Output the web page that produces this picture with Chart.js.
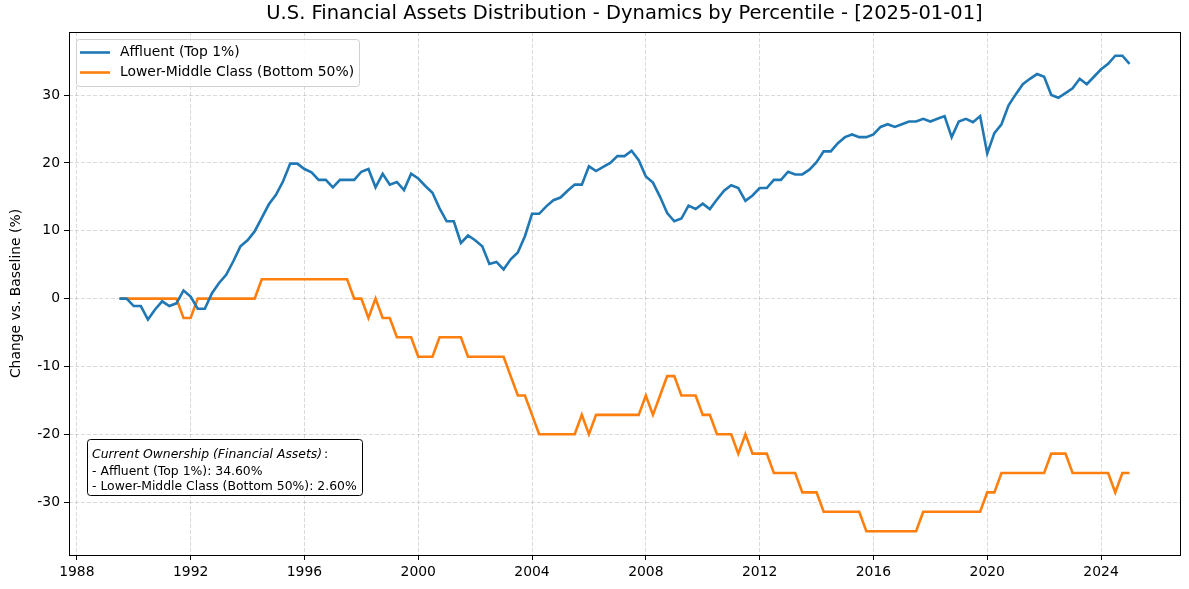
<!DOCTYPE html>
<html>
<head>
<meta charset="utf-8">
<script src="https://cdn.jsdelivr.net/npm/chart.js@4.4.1/dist/chart.umd.min.js"></script>
<style>
  html, body { margin: 0; padding: 0; background: #fff; }
  #wrap { width: 1189px; height: 589px; }
</style>
</head>
<body>
<div id="wrap"><canvas id="assetsChart" width="1189" height="589"></canvas></div>
<script>
// quarterly observations, 1989 Q3 .. 2025 Q1 (decimal years)
const quarters = [];
for (let q = 0; q <= 142; q++) quarters.push(1989.5 + q / 4);

const seriesNames = ['Affluent (Top 1%)', 'Lower-Middle Class (Bottom 50%)'];

// change vs. baseline (%)
const affluent = [
  0, 0, -1.1, -1.1, -3.1, -1.6, -0.4, -1.1, -0.7, 1.2,
  0.3, -1.5, -1.5, 0.8, 2.3, 3.5, 5.5, 7.7, 8.6, 9.9,
  11.9, 13.9, 15.3, 17.3, 19.9, 19.9, 19.1, 18.6, 17.5, 17.5,
  16.4, 17.5, 17.5, 17.5, 18.7, 19.1, 16.4, 18.4, 16.8, 17.2,
  16.0, 18.4, 17.7, 16.6, 15.6, 13.3, 11.4, 11.4, 8.2, 9.3,
  8.6, 7.7, 5.1, 5.4, 4.3, 5.8, 6.8, 9.2, 12.5, 12.5,
  13.6, 14.5, 14.9, 15.9, 16.8, 16.8, 19.5, 18.8, 19.4, 20.0,
  21.0, 21.0, 21.8, 20.4, 18.0, 17.1, 15.0, 12.6, 11.4, 11.8,
  13.7, 13.2, 14.0, 13.2, 14.6, 15.9, 16.7, 16.3, 14.4, 15.2,
  16.3, 16.3, 17.5, 17.5, 18.7, 18.3, 18.3, 19.0, 20.1, 21.7,
  21.7, 22.9, 23.8, 24.2, 23.8, 23.8, 24.2, 25.3, 25.7, 25.3,
  25.7, 26.1, 26.1, 26.5, 26.1, 26.5, 26.9, 23.8, 26.1, 26.5,
  26.0, 26.9, 21.4, 24.4, 25.7, 28.5, 30.1, 31.6, 32.4, 33.1,
  32.7, 30.0, 29.6, 30.3, 31.0, 32.4, 31.6, 32.7, 33.8, 34.6,
  35.8, 35.8, 34.6
];

const lowerMiddle = [
  0, 0, 0, 0, 0, 0, 0, 0, 0, -2.86,
  -2.86, 0, 0, 0, 0, 0, 0, 0, 0, 0,
  2.86, 2.86, 2.86, 2.86, 2.86, 2.86, 2.86, 2.86, 2.86, 2.86,
  2.86, 2.86, 2.86, 0, 0, -2.86, 0, -2.86, -2.86, -5.71,
  -5.71, -5.71, -8.57, -8.57, -8.57, -5.71, -5.71, -5.71, -5.71, -8.57,
  -8.57, -8.57, -8.57, -8.57, -8.57, -11.43, -14.29, -14.29, -17.14, -20,
  -20, -20, -20, -20, -20, -17.14, -20, -17.14, -17.14, -17.14,
  -17.14, -17.14, -17.14, -17.14, -14.29, -17.14, -14.29, -11.43, -11.43, -14.29,
  -14.29, -14.29, -17.14, -17.14, -20, -20, -20, -22.86, -20, -22.86,
  -22.86, -22.86, -25.71, -25.71, -25.71, -25.71, -28.57, -28.57, -28.57, -31.43,
  -31.43, -31.43, -31.43, -31.43, -31.43, -34.29, -34.29, -34.29, -34.29, -34.29,
  -34.29, -34.29, -34.29, -31.43, -31.43, -31.43, -31.43, -31.43, -31.43, -31.43,
  -31.43, -31.43, -28.57, -28.57, -25.71, -25.71, -25.71, -25.71, -25.71, -25.71,
  -25.71, -22.86, -22.86, -22.86, -25.71, -25.71, -25.71, -25.71, -25.71, -25.71,
  -28.57, -25.71, -25.71
];

const xTicks = [1988, 1992, 1996, 2000, 2004, 2008, 2012, 2016, 2020, 2024];
const yTicks = [-30, -20, -10, 0, 10, 20, 30];

const titleText = 'U.S. Financial Assets Distribution - Dynamics by Percentile - [2025-01-01]';
const yLabelText = 'Change vs. Baseline (%)';
const noteTitle = 'Current Ownership (Financial Assets)';
const noteLines = [
  '- Affluent (Top 1%): 34.60%',
  '- Lower-Middle Class (Bottom 50%): 2.60%'
];

const FONT = '"DejaVu Sans", Verdana, sans-serif';
const BLUE = '#1f77b4';
const ORANGE = '#ff7f0e';

// title, axis label, frame, legend and the ownership note
const decorations = {
  id: 'decorations',
  afterDraw(chart) {
    const ctx = chart.ctx;
    const a = chart.chartArea;
    ctx.save();

    // frame
    ctx.strokeStyle = '#000';
    ctx.lineWidth = 1;
    ctx.strokeRect(Math.round(a.left) + 0.5, Math.round(a.top) + 0.5,
                   Math.round(a.right - a.left), Math.round(a.bottom - a.top));

    // title
    ctx.fillStyle = '#000';
    ctx.font = '19.5px ' + FONT;
    ctx.textAlign = 'center';
    ctx.textBaseline = 'middle';
    ctx.fillText(titleText, (a.left + a.right) / 2, 14);

    // y axis label
    ctx.save();
    ctx.translate(16, (a.top + a.bottom) / 2);
    ctx.rotate(-Math.PI / 2);
    ctx.font = '13.9px ' + FONT;
    ctx.fillText(yLabelText, 0, 0);
    ctx.restore();

    // legend
    ctx.beginPath();
    ctx.roundRect(76.5, 39.5, 283, 47, 3);
    ctx.fillStyle = 'rgba(255,255,255,0.85)';
    ctx.fill();
    ctx.strokeStyle = '#d0d0d0';
    ctx.stroke();
    const rows = [[BLUE, 52.5], [ORANGE, 72.5]];
    ctx.font = '13.9px ' + FONT;
    ctx.textAlign = 'left';
    rows.forEach(([col, y], i) => {
      ctx.strokeStyle = col;
      ctx.lineWidth = 2.6;
      ctx.beginPath();
      ctx.moveTo(80, y);
      ctx.lineTo(110, y);
      ctx.stroke();
      ctx.fillStyle = '#000';
      ctx.fillText(seriesNames[i], 120, y);
    });

    // ownership note
    ctx.beginPath();
    ctx.roundRect(87.5, 439.5, 275, 56, 3);
    ctx.fillStyle = '#fff';
    ctx.fill();
    ctx.strokeStyle = '#000';
    ctx.lineWidth = 1;
    ctx.stroke();
    ctx.fillStyle = '#000';
    ctx.font = 'italic 12.4px ' + FONT;
    ctx.fillText(noteTitle, 92, 455);
    const w = ctx.measureText(noteTitle).width;
    ctx.font = '12.4px ' + FONT;
    ctx.fillText(':', 92 + w + 2, 455);
    ctx.fillText(noteLines[0], 92, 471.5);
    ctx.fillText(noteLines[1], 92, 487);

    ctx.restore();
  }
};

const gridStyle = {
  color: 'rgba(150,150,150,0.45)',
  lineWidth: 0.8,
  tickLength: 5,
  tickColor: '#000',
  tickWidth: 1
};

new Chart(document.getElementById('assetsChart'), {
  type: 'line',
  data: {
    datasets: [
      {
        label: seriesNames[0],
        data: quarters.map((q, i) => ({ x: q, y: affluent[i] })),
        borderColor: BLUE,
        borderWidth: 2.6,
        pointRadius: 0,
        tension: 0
      },
      {
        label: seriesNames[1],
        data: quarters.map((q, i) => ({ x: q, y: lowerMiddle[i] })),
        borderColor: ORANGE,
        borderWidth: 2.6,
        pointRadius: 0,
        tension: 0
      }
    ]
  },
  options: {
    responsive: false,
    animation: false,
    layout: { padding: { top: 32, right: 9, left: 0, bottom: 0 } },
    plugins: {
      legend: { display: false },
      title: { display: false },
      tooltip: { enabled: false }
    },
    scales: {
      x: {
        type: 'linear',
        min: 1987.725,
        max: 2026.775,
        afterBuildTicks: s => { s.ticks = xTicks.map(v => ({ value: v })); },
        afterFit: s => { s.height = 34; },
        ticks: {
          autoSkip: false,
          maxRotation: 0,
          padding: 4,
          color: '#000',
          font: { family: FONT, size: 13.9 },
          callback: v => String(v)
        },
        grid: gridStyle,
        border: { display: false, dash: [4, 2] }
      },
      y: {
        min: -37.8,
        max: 39.3,
        afterBuildTicks: s => { s.ticks = yTicks.map(v => ({ value: v })); },
        afterFit: s => { s.width = 69; },
        ticks: {
          padding: 4,
          color: '#000',
          font: { family: FONT, size: 13.9 }
        },
        grid: gridStyle,
        border: { display: false, dash: [4, 2] }
      }
    }
  },
  plugins: [decorations]
});
</script>
</body>
</html>
